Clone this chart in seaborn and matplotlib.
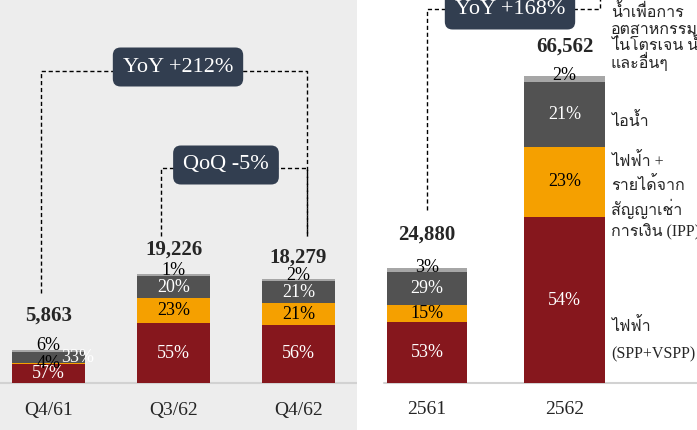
import matplotlib
matplotlib.use("Agg")
import matplotlib.pyplot as plt
import seaborn as sns
from matplotlib import font_manager
from matplotlib.ft2font import FT2Font
from matplotlib.lines import Line2D
from matplotlib.transforms import IdentityTransform

# quarterly panel
q_labels = ["Q4/61", "Q3/62", "Q4/62"]
q_totals = [5863, 19226, 18279]
q_power = [57, 55, 56]
q_ipp = [4, 23, 21]
q_steam = [33, 20, 21]
q_other = [6, 1, 2]

# yearly panel
y_labels = ["2561", "2562"]
y_totals = [24880, 66562]
y_power = [53, 54]
y_ipp = [15, 23]
y_steam = [29, 21]
y_other = [3, 2]

legend_lines = [
    ["น้ำเพื่อการ", "อุตสาหกรรม", "ไนโตรเจน น้ำ", "และอื่นๆ"],
    ["ไอน้ำ"],
    ["ไฟฟ้า +", "รายได้จาก", "สัญญาเช่า", "การเงิน (IPP)"],
    ["ไฟฟ้า", "(SPP+VSPP)"],
]
legend_y = [[13, 30, 46, 62], [122], [162, 186, 209, 232], [327, 354]]

RED = "#86171D"
ORANGE = "#F5A000"
DARK = "#525252"
LIGHT = "#A6A6A6"
BOX = "#323E50"
W, H = 697, 430


def thai_family():
    for f in font_manager.fontManager.ttflist:
        try:
            if FT2Font(f.fname).get_char_index(ord("ก")):
                return f.name
        except Exception:
            pass
    return "DejaVu Sans"


sns.set_style("white")
THAI = thai_family()
SERIF = ["Liberation Serif", THAI, "DejaVu Serif"]
plt.rcParams["font.family"] = SERIF

fig = plt.figure(figsize=(W / 100, H / 100), dpi=100)
ax_q = fig.add_axes([0, 0, 357 / W, 1], facecolor="#EDEDED")
ax_y = fig.add_axes([357 / W, 0, 340 / W, 1], facecolor="white")


def draw_panel(ax, labels, totals, power, ipp, steam, other, gaps, other_up, nudge):
    n = len(labels)
    c1 = [t * p / 100 for t, p in zip(totals, power)]
    c2 = [t * (p + i) / 100 for t, p, i in zip(totals, power, ipp)]
    c3 = [t * (p + i + s) / 100 for t, p, i, s in zip(totals, power, ipp, steam)]
    layers = [(totals, LIGHT), (c3, DARK), (c2, ORANGE), (c1, RED)]
    for vals, col in layers:
        sns.barplot(x=labels, y=vals, color=col, saturation=1, width=0.585,
                    ax=ax, linewidth=0)
    for k in range(n):
        segs = [(0, c1[k], power[k], "white"), (c1[k], c2[k], ipp[k], "black"),
                (c2[k], c3[k], steam[k], "white")]
        for j, (lo, hi, pct, col) in enumerate(segs):
            dx = nudge.get((k, j), 0)
            ax.text(k + dx, (lo + hi) / 2, f"{pct}%", ha="center", va="center",
                    color=col, fontsize=13)
        ax.annotate(f"{other[k]}%", (k, totals[k]), xytext=(0, other_up * 0.72),
                    textcoords="offset points", ha="center", va="center",
                    fontsize=13, color="black")
        ax.annotate(f"{totals[k]:,}", (k, totals[k]), xytext=(0, gaps[k] * 0.72),
                    textcoords="offset points", ha="center", va="center",
                    fontsize=15, fontweight="bold")
        # category label under the baseline
        ax.annotate(labels[k], (k, 0), xytext=(0, -27 * 0.72),
                    textcoords="offset points", ha="center", va="center",
                    fontsize=14)
    ax.set_xticks([])
    ax.set_yticks([])
    ax.set_xlabel("")
    ax.set_ylabel("")
    sns.despine(ax=ax, left=True, bottom=True)


draw_panel(ax_q, q_labels, q_totals, q_power, q_ipp, q_steam, q_other,
           gaps=[34, 24, 22], other_up=4, nudge={(0, 2): 0.23})
draw_panel(ax_y, y_labels, y_totals, y_power, y_ipp, y_steam, y_other,
           gaps=[34, 29], other_up=1, nudge={})

# scales: baseline at 47 px from bottom
ax_q.set_xlim(-48.5 / 125, (357 - 48.5) / 125)
ax_q.set_ylim(-47 / 5.669e-3, 383 / 5.669e-3)
ax_y.set_xlim(-70 / 137.5, (340 - 70) / 137.5)
ax_y.set_ylim(-47 / 4.612e-3, 383 / 4.612e-3)
ax_q.axhline(0, color="#D2D2D2", lw=1.5, zorder=0.5)
ax_y.axhline(0, xmin=0.08, color="#D2D2D2", lw=1.5, zorder=0.5)


def px(ax, x, y):
    return ax.transData.transform((x, y))


def bracket(ax, i0, dx0, i1, dx1, level, gap0, gap1, totals):
    # level given in px from top of figure
    x0, y0 = px(ax, i0, totals[i0])
    x1, y1 = px(ax, i1, totals[i1])
    yl = H - level
    xs = [x0 + dx0, x0 + dx0, x1 + dx1, x1 + dx1]
    ys = [y0 + gap0, yl, yl, y1 + gap1]
    fig.add_artist(Line2D(xs, ys, transform=IdentityTransform(), color="black",
                          lw=1, ls=(0, (3, 2)), zorder=3))


def tag(x, y, s):
    fig.text(x / W, 1 - y / H, s, ha="center", va="center", color="white",
             fontsize=16, zorder=5,
             bbox=dict(boxstyle="round,pad=0.45,rounding_size=0.35", fc=BOX, ec="none"))


bracket(ax_q, 0, -7.5, 2, 8.5, 71, 57, 43, q_totals)
bracket(ax_q, 1, -13, 2, 8.5, 168, 38, 43, q_totals)
bracket(ax_y, 0, 0, 1, 35, 9, 58, 250, y_totals)
tag(178, 67, "YoY +212%")
tag(226, 165, "QoQ -5%")
tag(510, 10, "YoY +168%")

for lines, ys in zip(legend_lines, legend_y):
    for s, yy in zip(lines, ys):
        fig.text(611 / W, 1 - yy / H, s, ha="left", va="center", fontsize=11.5,
                 family=SERIF)

fig.savefig("out.png", dpi=100)
